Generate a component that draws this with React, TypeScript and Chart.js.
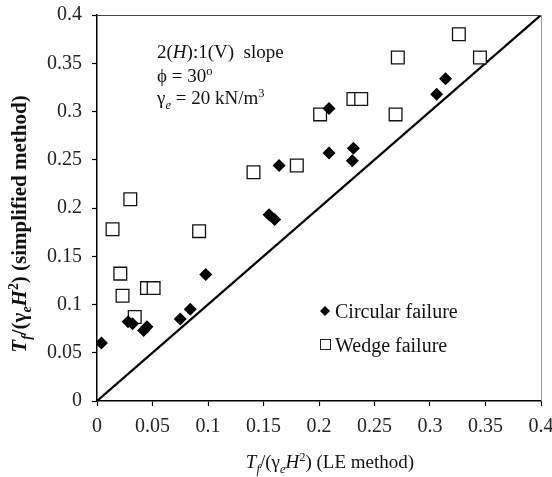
import React, { useEffect, useRef } from 'react';
import { Chart, registerables } from 'chart.js';

Chart.register(...registerables);

// ---- Data ----
const circularX = [0.004, 0.028, 0.032, 0.042, 0.045, 0.075, 0.084, 0.098, 0.155, 0.160, 0.164, 0.209, 0.209, 0.230, 0.231, 0.306, 0.314];
const circularY = [0.060, 0.082, 0.080, 0.073, 0.077, 0.085, 0.095, 0.131, 0.193, 0.188, 0.244, 0.303, 0.257, 0.249, 0.262, 0.318, 0.334];

const wedgeX = [0.014, 0.021, 0.023, 0.030, 0.034, 0.045, 0.051, 0.092, 0.141, 0.180, 0.201, 0.231, 0.238, 0.269, 0.271, 0.326, 0.345];
const wedgeY = [0.178, 0.132, 0.109, 0.209, 0.087, 0.117, 0.117, 0.176, 0.237, 0.244, 0.297, 0.313, 0.313, 0.297, 0.356, 0.380, 0.356];

const equalityX = [0, 0.4];
const equalityY = [0, 0.4];

const xTickLabels = ['0', '0.05', '0.1', '0.15', '0.2', '0.25', '0.3', '0.35', '0.4'];
const yTickLabels = ['0', '0.05', '0.1', '0.15', '0.2', '0.25', '0.3', '0.35', '0.4'];

const seriesNames = ['Circular failure', 'Wedge failure'];

const SERIF = '"Liberation Serif", "Times New Roman", Times, serif';

type Seg = { t: string; i?: boolean; b?: boolean; sub?: boolean; sup?: boolean };

function segFont(s: Seg, size: number, bold: boolean) {
  const sz = s.sub || s.sup ? size * 0.66 : size;
  return `${s.i ? 'italic ' : ''}${bold || s.b ? 'bold ' : ''}${sz}px ${SERIF}`;
}

function richWidth(ctx: CanvasRenderingContext2D, segs: Seg[], size: number, bold: boolean) {
  let w = 0;
  for (const s of segs) {
    ctx.font = segFont(s, size, bold);
    w += ctx.measureText(s.t).width;
  }
  return w;
}

function drawRich(
  ctx: CanvasRenderingContext2D,
  x: number,
  y: number,
  segs: Seg[],
  size: number,
  bold = false,
  align: 'left' | 'center' = 'left',
  color = '#111'
) {
  ctx.save();
  ctx.fillStyle = color;
  ctx.textBaseline = 'alphabetic';
  ctx.textAlign = 'left';
  let cx = x;
  if (align === 'center') cx = x - richWidth(ctx, segs, size, bold) / 2;
  for (const s of segs) {
    ctx.font = segFont(s, size, bold);
    let dy = 0;
    if (s.sub) dy = size * 0.25;
    if (s.sup) dy = -size * 0.38;
    ctx.fillText(s.t, cx, y + dy);
    cx += ctx.measureText(s.t).width;
  }
  ctx.restore();
}

const xTitle: Seg[] = [
  { t: 'T', i: true },
  { t: 'f', i: true, sub: true },
  { t: '/(γ' },
  { t: 'e', i: true, sub: true },
  { t: 'H', i: true },
  { t: '2', sup: true },
  { t: ') (LE method)' },
];

const yTitle: Seg[] = [
  { t: 'T', i: true },
  { t: 'f', i: true, sub: true },
  { t: '/(γ' },
  { t: 'e', i: true, sub: true },
  { t: 'H', i: true },
  { t: '2', sup: true },
  { t: ') (simplified method)' },
];

const note1: Seg[] = [{ t: '2(' }, { t: 'H', i: true }, { t: '):1(V)  slope' }];
const note2: Seg[] = [{ t: 'ϕ = 30' }, { t: 'o', sup: true }];
const note3: Seg[] = [{ t: 'γ' }, { t: 'e', i: true, sub: true }, { t: ' = 20 kN/m' }, { t: '3', sup: true }];

const decorPlugin = {
  id: 'decor',
  afterDraw(chart: any) {
    const ctx: CanvasRenderingContext2D = chart.ctx;
    const a = chart.chartArea;
    ctx.save();
    // frame top and right
    ctx.lineWidth = 1;
    ctx.strokeStyle = '#444';
    ctx.beginPath();
    ctx.moveTo(a.left, a.top + 0.5);
    ctx.lineTo(a.right, a.top + 0.5);
    ctx.stroke();
    ctx.strokeStyle = '#999';
    ctx.beginPath();
    ctx.moveTo(a.right + 0.5, a.top);
    ctx.lineTo(a.right + 0.5, a.bottom);
    ctx.stroke();

    // annotation
    drawRich(ctx, 157, 58, note1, 19);
    drawRich(ctx, 157, 82, note2, 19);
    drawRich(ctx, 157, 104, note3, 19);

    // legend
    const lx = 325;
    ctx.fillStyle = '#000';
    ctx.beginPath();
    ctx.moveTo(lx - 5, 311);
    ctx.lineTo(lx, 306);
    ctx.lineTo(lx + 5, 311);
    ctx.lineTo(lx, 316);
    ctx.closePath();
    ctx.fill();
    ctx.strokeStyle = '#222';
    ctx.lineWidth = 1;
    ctx.strokeRect(lx - 4.5, 339.5, 10, 10);
    ctx.font = `20px ${SERIF}`;
    ctx.fillStyle = '#111';
    ctx.textBaseline = 'alphabetic';
    ctx.textAlign = 'left';
    ctx.fillText(seriesNames[0], 335, 318);
    ctx.fillText(seriesNames[1], 335, 352);

    // axis titles
    drawRich(ctx, 330, 468, xTitle, 19, false, 'center');
    ctx.save();
    ctx.translate(26, 224);
    ctx.rotate(-Math.PI / 2);
    drawRich(ctx, 0, 0, yTitle, 21, true, 'center');
    ctx.restore();
    ctx.restore();
  },
};

export default function App() {
  const ref = useRef<HTMLCanvasElement | null>(null);
  useEffect(() => {
    document.body.style.margin = '0';
    const canvas = ref.current!;
    const chart = new Chart(canvas, {
      type: 'scatter',
      data: {
        datasets: [
          {
            label: seriesNames[0],
            data: circularX.map((x, i) => ({ x, y: circularY[i] })),
            pointStyle: 'rectRot',
            pointRadius: 6.5,
            pointHoverRadius: 6.5,
            backgroundColor: '#000',
            borderColor: '#000',
            borderWidth: 0,
          },
          {
            label: seriesNames[1],
            data: wedgeX.map((x, i) => ({ x, y: wedgeY[i] })),
            pointStyle: 'rect',
            pointRadius: 9,
            pointHoverRadius: 9,
            backgroundColor: '#fff',
            borderColor: '#111',
            borderWidth: 1.3,
          },
          {
            label: '1:1',
            data: equalityX.map((x, i) => ({ x, y: equalityY[i] })),
            showLine: true,
            pointRadius: 0,
            borderColor: '#000',
            borderWidth: 2.2,
            fill: false,
          } as any,
        ],
      },
      options: {
        responsive: false,
        animation: false,
        layout: { padding: { top: 15, right: 11, left: 0, bottom: 0 }, autoPadding: false } as any,
        plugins: { legend: { display: false }, tooltip: { enabled: false } },
        scales: {
          x: {
            type: 'linear',
            min: 0,
            max: 0.4,
            afterFit: (s: any) => {
              s.height = 76;
              s.paddingLeft = 0;
              s.paddingRight = 0;
            },
            ticks: {
              stepSize: 0.05,
              color: '#222',
              padding: 9,
              maxRotation: 0,
              autoSkip: false,
              font: { family: SERIF, size: 20 },
              callback: (_v: any, i: number) => xTickLabels[i],
            },
            grid: { display: true, drawOnChartArea: false, drawTicks: true, tickLength: 5, tickColor: '#000', tickWidth: 1.2 },
            border: { display: true, color: '#000', width: 1.5 },
          },
          y: {
            type: 'linear',
            min: 0,
            max: 0.4,
            afterFit: (s: any) => {
              s.width = 97;
              s.paddingTop = 0;
              s.paddingBottom = 0;
            },
            ticks: {
              stepSize: 0.05,
              color: '#222',
              padding: 10,
              autoSkip: false,
              font: { family: SERIF, size: 20 },
              callback: (_v: any, i: number) => yTickLabels[i],
            },
            grid: { display: true, drawOnChartArea: false, drawTicks: true, tickLength: 5, tickColor: '#000', tickWidth: 1.2 },
            border: { display: true, color: '#000', width: 1.5 },
          },
        },
      },
      plugins: [decorPlugin],
    });
    return () => chart.destroy();
  }, []);
  return (
    <div style={{ width: 552, height: 477 }}>
      <canvas ref={ref} width={552} height={477} style={{ display: 'block' }} />
    </div>
  );
}
